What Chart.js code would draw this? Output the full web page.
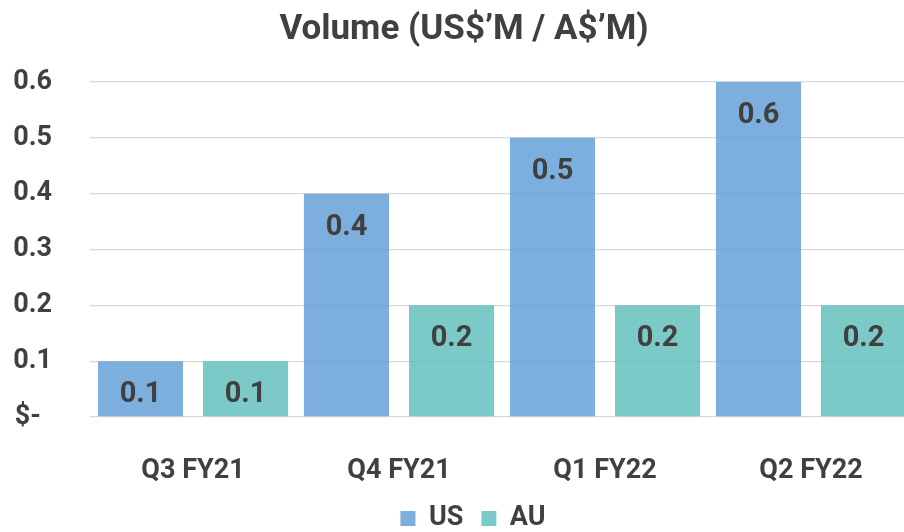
<!DOCTYPE html>
<html>
<head>
<meta charset="utf-8">
<script src="https://cdn.jsdelivr.net/npm/chart.js@4/dist/chart.umd.min.js"></script>
<style>
  html, body { margin: 0; padding: 0; background: #ffffff; overflow: hidden; }
  #wrap { width: 916px; height: 532px; position: relative; }
</style>
</head>
<body>
<div id="wrap"><canvas id="chart"></canvas></div>
<script>
// Quarterly volume, in millions
const quarters = ['Q3 FY21', 'Q4 FY21', 'Q1 FY22', 'Q2 FY22'];
const usVolume = [0.1, 0.4, 0.5, 0.6];
const auVolume = [0.1, 0.2, 0.2, 0.2];
const seriesNames = ['US', 'AU'];
const chartTitle = 'Volume (US$\u2019M / A$\u2019M)';

const TEXT = '#404040';
const FONT = 'Roboto, "Liberation Sans", sans-serif';

// Value labels written inside each bar, just below its top
const barValueLabels = {
  id: 'barValueLabels',
  afterDatasetsDraw(chart) {
    const ctx = chart.ctx;
    ctx.save();
    ctx.font = 'bold 29px ' + FONT;
    ctx.fillStyle = TEXT;
    ctx.textAlign = 'center';
    ctx.textBaseline = 'alphabetic';
    chart.data.datasets.forEach((ds, di) => {
      const meta = chart.getDatasetMeta(di);
      meta.data.forEach((bar, i) => {
        ctx.fillText(ds.data[i].toFixed(1), bar.x, bar.y + 41);
      });
    });
    ctx.restore();
  }
};

// Nudge the bottom legend a little to the right of the canvas centre
const legendOffset = {
  id: 'legendOffset',
  afterLayout(chart) {
    if (chart.legend) {
      chart.legend.left += 9;
      chart.legend.right += 9;
    }
  }
};

new Chart(document.getElementById('chart'), {
  type: 'bar',
  data: {
    labels: quarters,
    datasets: [
      {
        label: seriesNames[0],
        data: usVolume,
        backgroundColor: 'rgba(91,155,213,0.8)',
        borderWidth: 0,
        categoryPercentage: 1.02,
        barPercentage: 0.81
      },
      {
        label: seriesNames[1],
        data: auVolume,
        backgroundColor: 'rgba(91,189,186,0.8)',
        borderWidth: 0,
        categoryPercentage: 1.02,
        barPercentage: 0.81
      }
    ]
  },
  options: {
    responsive: true,
    maintainAspectRatio: false,
    animation: false,
    layout: { padding: { top: 2, left: 14, right: 2, bottom: 0 } },
    plugins: {
      title: {
        display: true,
        text: chartTitle,
        color: TEXT,
        font: { family: FONT, size: 35, weight: 'bold', lineHeight: 1.2 },
        padding: { top: 7, bottom: 31 }
      },
      legend: {
        position: 'bottom',
        maxHeight: 45,
        labels: {
          color: TEXT,
          font: { family: FONT, size: 27, weight: 'bold' },
          boxWidth: 15,
          boxHeight: 15,
          padding: 18
        }
      },
      tooltip: { enabled: false }
    },
    scales: {
      x: {
        grid: { display: false },
        border: { display: false },
        ticks: {
          color: TEXT,
          font: { family: FONT, size: 27, weight: 'bold' },
          padding: 30,
          maxRotation: 0
        },
        afterFit(scale) { scale.height = 70; }
      },
      y: {
        min: 0,
        max: 0.6,
        grid: { color: '#d9d9d9', lineWidth: 1.3, drawTicks: false },
        border: { display: false },
        ticks: {
          stepSize: 0.1,
          color: TEXT,
          font: { family: FONT, size: 27, weight: 'bold' },
          padding: 38,
          callback: (v) => (Math.abs(v) < 1e-9 ? '$-\u2009\u2009' : Number(v).toFixed(1))
        },
        afterFit(scale) { scale.width = 76; }
      }
    }
  },
  plugins: [barValueLabels, legendOffset]
});
</script>
</body>
</html>
